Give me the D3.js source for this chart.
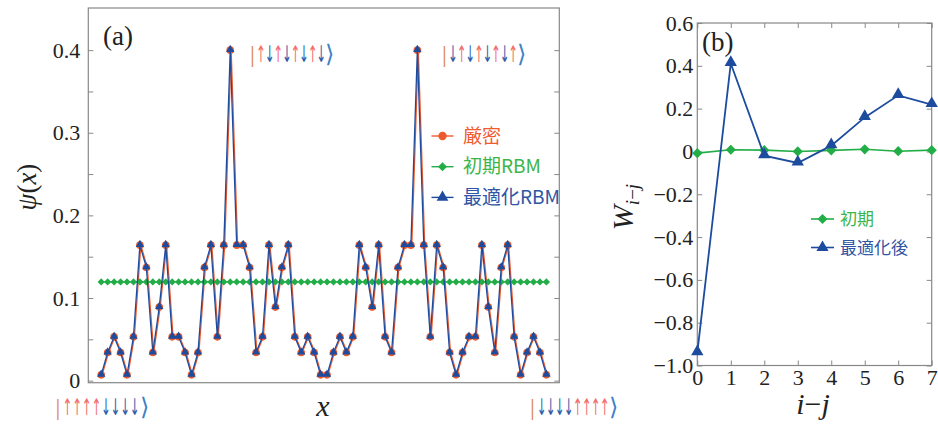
<!DOCTYPE html>
<html lang="ja">
<head>
<meta charset="UTF-8">
<title>RBM wave function</title>
<script src="https://d3js.org/d3.v7.min.js"></script>
<style>
  body { margin: 0; background: #fff; }
  svg { display: block; }
  .tick text { font-family: "Liberation Serif", serif; font-size: 22px; fill: #222; }
  .tick line { stroke: #888; }
</style>
</head>
<body>
<svg id="chart" width="938" height="430"></svg>
<script>
// panel (a): amplitudes over the 70 basis states
const psiExact = [
  0.007, 0.034, 0.053, 0.034, 0.007, 0.053, 0.164, 0.137, 0.034, 0.089,
  0.164, 0.053, 0.053, 0.034, 0.007, 0.034, 0.137, 0.164, 0.053, 0.164,
  0.400, 0.164, 0.164, 0.137, 0.034, 0.053, 0.164, 0.089, 0.137, 0.164,
  0.053, 0.034, 0.053, 0.034, 0.007, 0.007, 0.034, 0.053, 0.034, 0.053,
  0.164, 0.137, 0.089, 0.164, 0.053, 0.034, 0.137, 0.164, 0.164, 0.400,
  0.164, 0.053, 0.164, 0.137, 0.034, 0.007, 0.034, 0.053, 0.053, 0.164,
  0.089, 0.034, 0.137, 0.164, 0.053, 0.007, 0.034, 0.053, 0.034, 0.007
];
const psiRBM = [
  0.007, 0.034, 0.053, 0.034, 0.007, 0.053, 0.164, 0.137, 0.034, 0.089,
  0.164, 0.053, 0.053, 0.034, 0.007, 0.034, 0.137, 0.164, 0.053, 0.164,
  0.400, 0.164, 0.164, 0.137, 0.034, 0.053, 0.164, 0.089, 0.137, 0.164,
  0.053, 0.034, 0.053, 0.034, 0.007, 0.007, 0.034, 0.053, 0.034, 0.053,
  0.164, 0.137, 0.089, 0.164, 0.053, 0.034, 0.137, 0.164, 0.164, 0.400,
  0.164, 0.053, 0.164, 0.137, 0.034, 0.007, 0.034, 0.053, 0.053, 0.164,
  0.089, 0.034, 0.137, 0.164, 0.053, 0.007, 0.034, 0.053, 0.034, 0.007
];
const psiInit = [
  0.1195, 0.1195, 0.1195, 0.1195, 0.1195, 0.1195, 0.1195, 0.1195, 0.1195, 0.1195,
  0.1195, 0.1195, 0.1195, 0.1195, 0.1195, 0.1195, 0.1195, 0.1195, 0.1195, 0.1195,
  0.1195, 0.1195, 0.1195, 0.1195, 0.1195, 0.1195, 0.1195, 0.1195, 0.1195, 0.1195,
  0.1195, 0.1195, 0.1195, 0.1195, 0.1195, 0.1195, 0.1195, 0.1195, 0.1195, 0.1195,
  0.1195, 0.1195, 0.1195, 0.1195, 0.1195, 0.1195, 0.1195, 0.1195, 0.1195, 0.1195,
  0.1195, 0.1195, 0.1195, 0.1195, 0.1195, 0.1195, 0.1195, 0.1195, 0.1195, 0.1195,
  0.1195, 0.1195, 0.1195, 0.1195, 0.1195, 0.1195, 0.1195, 0.1195, 0.1195, 0.1195
];
const psiTicks = [0, 0.05, 0.1, 0.15, 0.2, 0.25, 0.3, 0.35, 0.4];
const psiLabels = [0, 0.1, 0.2, 0.3, 0.4];

// spin configurations written on the plot
const kets = ["↑↓↑↓↑↓↑↓", "↓↑↓↑↓↑↓↑", "↑↑↑↑↓↓↓↓", "↓↓↓↓↑↑↑↑"];

// panel (b): weights W_{i-j}
const dist = [0, 1, 2, 3, 4, 5, 6, 7];
const wInit = [-0.008, 0.008, 0.006, 0.000, 0.005, 0.010, 0.001, 0.006];
const wOpt = [-0.94, 0.411, -0.020, -0.054, 0.027, 0.159, 0.262, 0.219];
const wTicks = [0.6, 0.4, 0.2, 0, -0.2, -0.4, -0.6, -0.8, -1.0];

const orange = "#ee5a2c", green = "#22ad47", blue = "#1d4c9e";
const upCol = "#f46c6c", downCol = "#2b5ba8";
const jp = "'Noto Sans CJK JP', sans-serif";
const serif = "'Liberation Serif', serif";

const svg = d3.select("#chart");

// ---------- panel (a) ----------
const xA = d3.scaleLinear().domain([-2, 71]).range([88.3, 559.3]);
const yA = d3.scaleLinear().domain([-0.0025, 0.451]).range([382.7, 8]);

const gA = svg.append("g");
gA.append("rect")
  .attr("x", xA.range()[0]).attr("y", yA.range()[1])
  .attr("width", xA.range()[1] - xA.range()[0])
  .attr("height", yA.range()[0] - yA.range()[1])
  .attr("fill", "none").attr("stroke", "#888").attr("stroke-width", 1.2);

const fmtA = d => psiLabels.includes(d) ? (d === 0 ? "0" : d.toFixed(1)) : "";
gA.append("g").attr("transform", `translate(${xA.range()[0]},0)`)
  .call(d3.axisLeft(yA).tickValues(psiTicks).tickSize(-5).tickPadding(8).tickFormat(fmtA))
  .call(g => g.select(".domain").remove());
gA.append("g").attr("transform", `translate(${xA.range()[1]},0)`)
  .call(d3.axisRight(yA).tickValues(psiTicks).tickSize(-5).tickFormat(""))
  .call(g => g.select(".domain").remove());
gA.selectAll(".tick text").attr("font-family", serif).attr("font-size", 22);

const lineA = d3.line().x((d, i) => xA(i)).y(d => yA(d));

// exact
gA.append("path").datum(psiExact).attr("d", lineA)
  .attr("fill", "none").attr("stroke", orange).attr("stroke-width", 1.3)
  .attr("transform", "translate(0.9,0)");
gA.selectAll(".exact").data(psiExact).join("circle")
  .attr("cx", (d, i) => xA(i)).attr("cy", d => yA(d)).attr("r", 3.8).attr("fill", orange);

// initial RBM
gA.append("path").datum(psiInit).attr("d", lineA)
  .attr("fill", "none").attr("stroke", green).attr("stroke-width", 1.3);
gA.selectAll(".init").data(psiInit).join("path")
  .attr("d", d3.symbol(d3.symbolSquare, 26))
  .attr("transform", (d, i) => `translate(${xA(i)},${yA(d)}) rotate(45)`)
  .attr("fill", green);

// optimised RBM
gA.append("path").datum(psiRBM).attr("d", lineA)
  .attr("fill", "none").attr("stroke", blue).attr("stroke-width", 1.3);
gA.selectAll(".rbm").data(psiRBM).join("path")
  .attr("d", d3.symbol(d3.symbolTriangle, 30))
  .attr("transform", (d, i) => `translate(${xA(i)},${yA(d) - 0.5})`)
  .attr("fill", blue);

gA.append("text").attr("x", 103).attr("y", 45)
  .attr("font-family", serif).attr("font-size", 27).attr("fill", "#222").text("(a)");

// y label ψ(x)
const yLab = gA.append("text")
  .attr("transform", "translate(36,187) rotate(-90)")
  .attr("text-anchor", "middle").attr("font-family", serif).attr("font-size", 27).attr("fill", "#222");
yLab.append("tspan").attr("font-style", "italic").text("ψ");
yLab.append("tspan").text("(");
yLab.append("tspan").attr("font-style", "italic").text("x");
yLab.append("tspan").text(")");

gA.append("text").attr("x", 323).attr("y", 416).attr("text-anchor", "middle")
  .attr("font-family", serif).attr("font-style", "italic").attr("font-size", 30).attr("fill", "#222").text("x");

// legend (a)
const legA = [
  { label: "厳密", col: orange, text: "#f05b30", sym: d3.symbolCircle, size: 55, rot: 0 },
  { label: "初期RBM", col: green, text: "#3cb54a", sym: d3.symbolSquare, size: 40, rot: 45 },
  { label: "最適化RBM", col: blue, text: "#2f55a4", sym: d3.symbolTriangle, size: 60, rot: 0 }
];
legA.forEach((e, k) => {
  const y = 136 + k * 30.7;
  gA.append("line").attr("x1", 431.5).attr("x2", 453.5).attr("y1", y).attr("y2", y)
    .attr("stroke", e.col).attr("stroke-width", 1.4);
  gA.append("path").attr("d", d3.symbol(e.sym, e.size))
    .attr("transform", `translate(442.5,${y}) rotate(${e.rot})`).attr("fill", e.col);
  gA.append("text").attr("x", 463).attr("y", y + 6.5)
    .attr("font-family", jp).attr("font-size", 19).attr("fill", e.text).text(e.label);
});

// spin kets: one glyph per band, arrows narrowed horizontally
const ketPos = [
  { x: 248, y: 62, w: 86 },
  { x: 440, y: 62, w: 86 },
  { x: 53, y: 415, w: 96 },
  { x: 528, y: 415, w: 90 }
];
kets.forEach((spins, n) => {
  const p = ketPos[n];
  const chars = ["|"].concat(Array.from(spins), ["⟩"]);
  const last = chars.length - 1;
  const band = d3.scaleBand().domain(d3.range(chars.length)).range([p.x, p.x + p.w]);
  const g = gA.append("g");
  g.selectAll("text").data(chars).join("text")
    .attr("transform", (d, i) => `translate(${band(i) + band.bandwidth() / 2},${p.y}) scale(${i === 0 || i === last ? 1 : 0.5},1)`)
    .attr("text-anchor", "middle")
    .attr("font-family", (d, i) => (i === 0 || i === last) ? serif : "'DejaVu Sans', sans-serif")
    .attr("font-size", (d, i) => (i === 0 || i === last) ? 24 : 23)
    .attr("fill", (d, i) => i === 0 ? "#d9874a" : i === last ? "#3f7fc8" : d === "↑" ? upCol : downCol)
    .text(d => d);
});

// ---------- panel (b) ----------
const xB = d3.scaleLinear().domain([0, 7]).range([697.3, 931.7]);
const yB = d3.scaleLinear().domain([-1, 0.6]).range([365.5, 23]);

const gB = svg.append("g");
gB.append("rect")
  .attr("x", xB.range()[0]).attr("y", yB.range()[1])
  .attr("width", xB.range()[1] - xB.range()[0])
  .attr("height", yB.range()[0] - yB.range()[1])
  .attr("fill", "none").attr("stroke", "#888").attr("stroke-width", 1.2);

const fmtB = d => d === 0 ? "0" : (d < 0 ? "−" : "") + Math.abs(d).toFixed(1);
gB.append("g").attr("transform", `translate(${xB.range()[0]},0)`)
  .call(d3.axisLeft(yB).tickValues(wTicks).tickSize(-5).tickPadding(4).tickFormat(fmtB))
  .call(g => g.select(".domain").remove());
gB.append("g").attr("transform", `translate(${xB.range()[1]},0)`)
  .call(d3.axisRight(yB).tickValues(wTicks).tickSize(-5).tickFormat(""))
  .call(g => g.select(".domain").remove());
gB.append("g").attr("transform", `translate(0,${yB.range()[0]})`)
  .call(d3.axisBottom(xB).tickValues(dist).tickSize(-5).tickPadding(4).tickFormat(d3.format("d")))
  .call(g => g.select(".domain").remove());
gB.append("g").attr("transform", `translate(0,${yB.range()[1]})`)
  .call(d3.axisTop(xB).tickValues(dist).tickSize(-5).tickFormat(""))
  .call(g => g.select(".domain").remove());
gB.selectAll(".tick text").attr("font-family", serif).attr("font-size", 22);

const lineB = d3.line().x((d, i) => xB(dist[i])).y(d => yB(d));

gB.append("path").datum(wInit).attr("d", lineB)
  .attr("fill", "none").attr("stroke", green).attr("stroke-width", 1.6);
gB.selectAll(".winit").data(wInit).join("path")
  .attr("d", d3.symbol(d3.symbolSquare, 52))
  .attr("transform", (d, i) => `translate(${xB(dist[i])},${yB(d)}) rotate(45)`)
  .attr("fill", green);

gB.append("path").datum(wOpt).attr("d", lineB)
  .attr("fill", "none").attr("stroke", blue).attr("stroke-width", 1.8);
gB.selectAll(".wopt").data(wOpt).join("path")
  .attr("d", d3.symbol(d3.symbolTriangle, 66))
  .attr("transform", (d, i) => `translate(${xB(dist[i])},${yB(d) - 1})`)
  .attr("fill", blue);

gB.append("text").attr("x", 702).attr("y", 51)
  .attr("font-family", serif).attr("font-size", 27).attr("fill", "#222").text("(b)");

const wLab = gB.append("text")
  .attr("transform", "translate(633,207) rotate(-90)")
  .attr("text-anchor", "middle").attr("font-family", serif).attr("fill", "#222");
wLab.append("tspan").attr("font-size", 30).attr("font-style", "italic").text("W");
wLab.append("tspan").attr("font-size", 19).attr("font-style", "italic").attr("dy", 6).text("i");
wLab.append("tspan").attr("font-size", 19).text("−");
wLab.append("tspan").attr("font-size", 19).attr("font-style", "italic").text("j");

const xLabB = gB.append("text").attr("x", 813).attr("y", 414).attr("text-anchor", "middle")
  .attr("font-family", serif).attr("font-size", 30).attr("fill", "#222");
xLabB.append("tspan").attr("font-style", "italic").text("i");
xLabB.append("tspan").text("−");
xLabB.append("tspan").attr("font-style", "italic").text("j");

// legend (b)
const legB = [
  { label: "初期", col: green, text: "#3cb54a", sym: d3.symbolSquare, size: 50, rot: 45 },
  { label: "最適化後", col: blue, text: "#2f55a4", sym: d3.symbolTriangle, size: 64, rot: 0 }
];
legB.forEach((e, k) => {
  const y = 219 + k * 28.5;
  gB.append("line").attr("x1", 811).attr("x2", 834).attr("y1", y).attr("y2", y)
    .attr("stroke", e.col).attr("stroke-width", 1.6);
  gB.append("path").attr("d", d3.symbol(e.sym, e.size))
    .attr("transform", `translate(822.5,${y}) rotate(${e.rot})`).attr("fill", e.col);
  gB.append("text").attr("x", 840).attr("y", y + 6)
    .attr("font-family", jp).attr("font-size", 17).attr("fill", e.text).text(e.label);
});
</script>
</body>
</html>
